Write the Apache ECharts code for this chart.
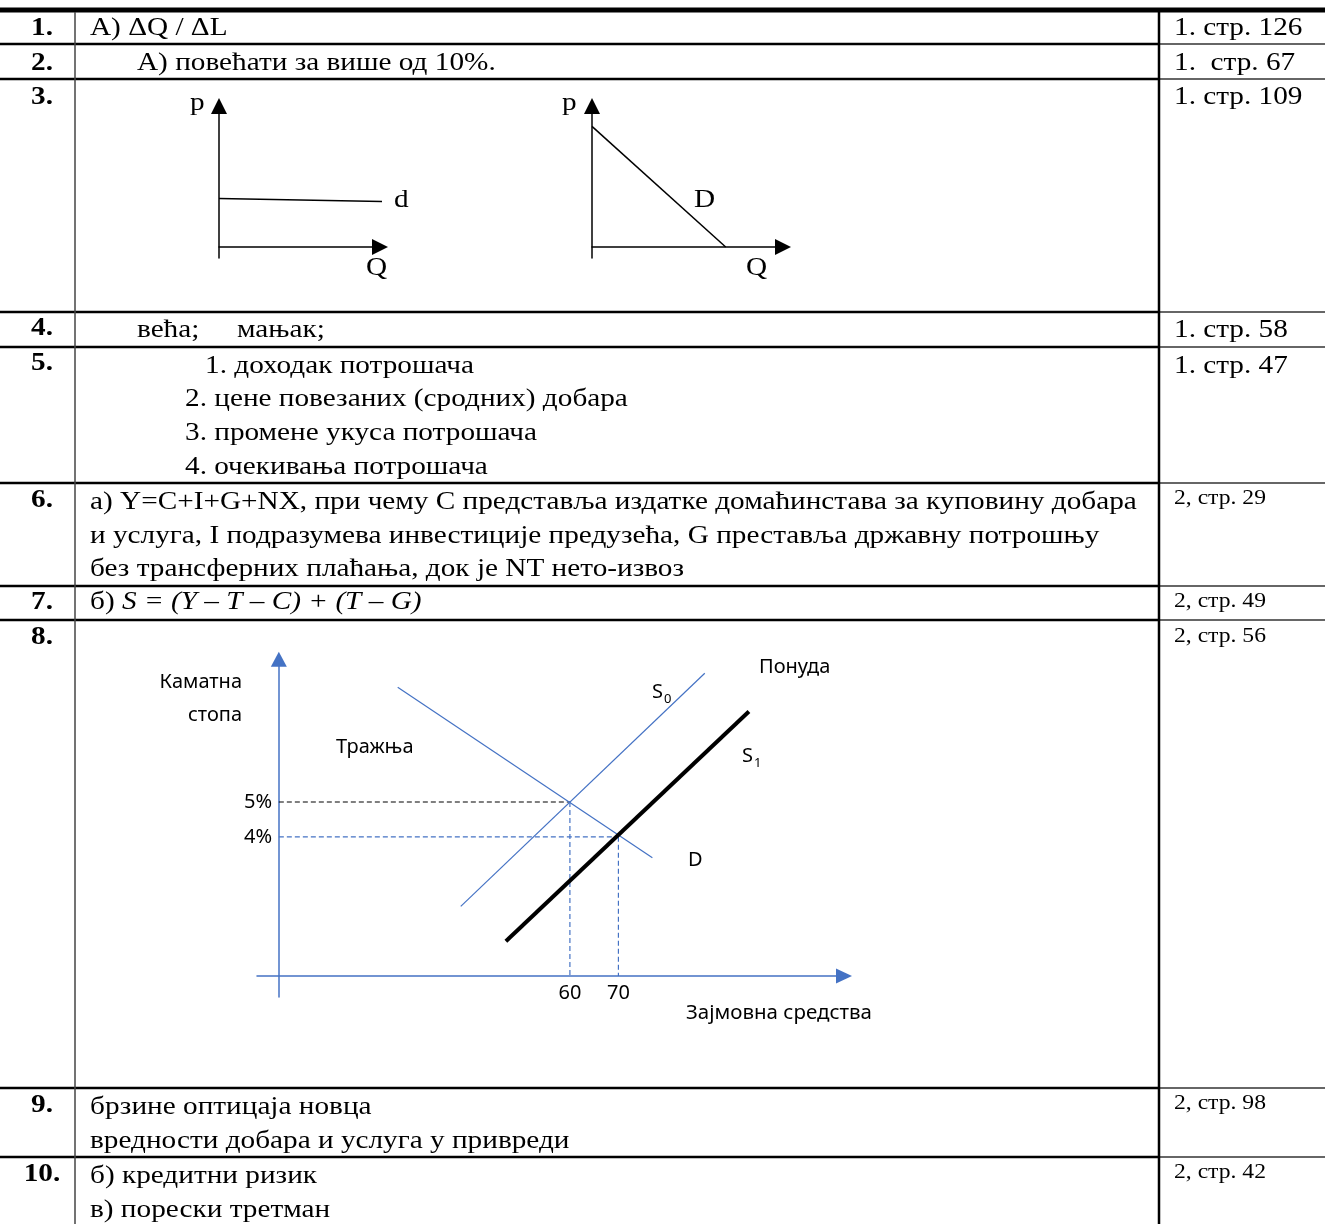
<!DOCTYPE html>
<html>
<head>
<meta charset="utf-8">
<script src="https://cdn.jsdelivr.net/npm/echarts@6/dist/echarts.min.js"></script>
<style>
  html, body { margin: 0; padding: 0; background: #fff; }
  #main { width: 1325px; height: 1224px; }
</style>
</head>
<body>
<div id="main"></div>
<script>
  // ---- data ----
  const rowNumbers = ['1.', '2.', '3.', '4.', '5.', '6.', '7.', '8.', '9.', '10.'];
  const bookRefs = ['1. стр. 126', '1.  стр. 67', '1. стр. 109', '1. стр. 58', '1. стр. 47',
    '2, стр. 29', '2, стр. 49', '2, стр. 56', '2, стр. 98', '2, стр. 42'];
  const answers5 = ['1. доходак потрошача', '2. цене повезаних (сродних) добара',
    '3. промене укуса потрошача', '4. очекивања потрошача'];
  const answers6 = ['а) Y=C+I+G+NX, при чему С представља издатке домаћинстава за куповину добара',
    'и услуга, I подразумева инвестиције предузећа, G преставља државну потрошњу',
    'без трансферних плаћања, док је NT нето-извоз'];
  const answers9 = ['брзине оптицаја новца', 'вредности добара и услуга у привреди'];
  const answers10 = ['б) кредитни ризик', 'в) порески третман'];

  // task 3: perfectly elastic demand (d) and linear demand (D)
  const flatDemand = [[0, 3.1], [10.35, 2.9]];
  const linearDemand = [[0, 7.7], [7, 0]];

  // task 8: loanable funds market
  const loanDemand = [[24.5, 8.3], [77, 3.4]];
  const supplyS0 = [[37.5, 2.0], [87.8, 8.7]];
  const supplyS1 = [[46.8, 1.0], [96.9, 7.6]];
  const equilibria = [[60, 5], [70, 4]];
  const rateTicks = [4, 5];
  const fundTicks = [60, 70];

  // ---- layout ----
  const SERIF = '"Liberation Serif", "Times New Roman", serif';
  const SANS = '"Noto Sans", "Open Sans", sans-serif';
  const STRETCH = 1.125;
  const BLUE = '#4472C4';
  const rowLines = [44, 79, 312, 347, 483, 586, 620, 1088, 1157];
  const numY = [28, 63, 97, 328, 363, 500, 602, 637, 1105, 1174];
  const refY = [28, 63, 97, 330, 366, 498, 601, 636, 1103, 1172];

  const elements = [];
  const text = (str, x, y, font, extra) => {
    elements.push(Object.assign({
      type: 'text', x: x, y: y, scaleX: STRETCH, silent: true,
      style: {
        text: str, x: 0, y: 0, font: font, fill: '#000',
        textAlign: 'left', align: 'left',
        textVerticalAlign: 'middle', verticalAlign: 'middle'
      }
    }, extra || {}));
  };
  const setAlign = (el, a) => { el.style.textAlign = a; el.style.align = a; };
  const line = (x1, y1, x2, y2, color, w) => {
    elements.push({ type: 'line', silent: true, shape: { x1, y1, x2, y2 }, style: { stroke: color, lineWidth: w } });
  };

  // table rules
  line(0, 10, 1325, 10, '#000', 5);
  rowLines.forEach((y) => {
    line(0, y, 1159, y, '#000', 2.5);
    line(1159, y, 1325, y, '#333', 1.5);
  });
  line(75, 12, 75, 1224, '#444', 1.5);
  line(1159, 12, 1159, 1224, '#000', 2.5);

  // row numbers
  rowNumbers.forEach((n, i) => {
    text(n, 42, numY[i], 'bold 26px ' + SERIF);
    setAlign(elements[elements.length - 1], 'center');
  });
  // references column
  bookRefs.forEach((r, i) => {
    text(r, 1174, refY[i], (i < 5 ? '26px ' : '21px ') + SERIF);
  });

  // answers
  text('А) ΔQ / ΔL', 90, 28, '26px ' + SERIF);
  text('А) повећати за више од 10%.', 137, 63, '26px ' + SERIF);
  text('већа;', 137, 330, '26px ' + SERIF);
  text('мањак;', 237, 330, '26px ' + SERIF);
  answers5.forEach((s, i) => text(s, i === 0 ? 205 : 185, [366, 399, 433, 467][i], '26px ' + SERIF));
  answers6.forEach((s, i) => text(s, 90, [502, 536, 569][i], '26px ' + SERIF));
  text('б)', 90, 602, '26px ' + SERIF);
  text('S = (Y – T – C) + (T – G)', 122, 602, 'italic 26px ' + SERIF);
  answers9.forEach((s, i) => text(s, 90, [1107, 1141][i], '26px ' + SERIF));
  answers10.forEach((s, i) => text(s, 90, [1176, 1210][i], '26px ' + SERIF));

  // diagram labels (task 3)
  text('p', 190, 103, '26px ' + SERIF);
  text('d', 394, 200, '26px ' + SERIF);
  text('Q', 366, 268, '26px ' + SERIF);
  text('p', 562, 103, '26px ' + SERIF);
  text('D', 694, 200, '26px ' + SERIF);
  text('Q', 746, 268, '26px ' + SERIF);

  // diagram labels (task 8)
  const sansLabel = (s, x, y, size, align) => {
    text(s, x, y, (size || 20) + 'px ' + SANS, { scaleX: 1 });
    if (align) setAlign(elements[elements.length - 1], align);
  };
  sansLabel('Каматна', 242, 682, 20, 'right');
  sansLabel('стопа', 242, 715, 20, 'right');
  sansLabel('Тражња', 336, 747);
  sansLabel('Понуда', 759, 667);
  sansLabel('S', 652, 692);
  sansLabel('0', 664, 699, 13);
  sansLabel('S', 742, 756);
  sansLabel('1', 754, 763, 13);
  sansLabel('D', 688, 860);
  sansLabel('Зајмовна средства', 686, 1013, 20.5);

  // ---- axes helpers ----
  const arrowAxis = (color, size) => ({
    show: true, onZero: true,
    symbol: ['none', 'triangle'], symbolSize: size,
    lineStyle: { color: color, width: 1.5 }
  });
  const plainAxis = (gridIndex, min, max, color, size) => ({
    type: 'value', gridIndex: gridIndex, min: min, max: max,
    axisLine: arrowAxis(color, size),
    axisTick: { show: false }, axisLabel: { show: false }, splitLine: { show: false }
  });

  const seg = (gi, data, color, width, type, z) => ({
    type: 'line', xAxisIndex: gi, yAxisIndex: gi, data: data, symbol: 'none',
    silent: true, clip: false, z: z || 2,
    lineStyle: { color: color, width: width, type: type || 'solid' }
  });

  const e0 = equilibria[0];
  const e1 = equilibria[1];

  // labels stay at the grid edge, so pull them back onto the crossing axes
  const xFunds = plainAxis(2, -4.5, 116.5, BLUE, [15, 16]);
  xFunds.axisLabel = {
    show: true, customValues: fundTicks, margin: -14,
    fontFamily: SANS, fontSize: 20, color: '#000'
  };
  const yRate = plainAxis(2, -0.6, 9.1, BLUE, [16, 15]);
  yRate.axisLabel = {
    show: true, customValues: rateTicks, margin: -15, formatter: '{value}%',
    fontFamily: SANS, fontSize: 20, color: '#000'
  };

  const option = {
    animation: false,
    backgroundColor: '#fff',
    grid: [
      { left: 219, top: 106, width: 161, height: 152 },
      { left: 592, top: 106, width: 191, height: 152 },
      { left: 257, top: 659.3, width: 587, height: 337.6 }
    ],
    xAxis: [
      plainAxis(0, 0, 10, '#000', [16, 16]),
      plainAxis(1, 0, 10, '#000', [16, 16]),
      xFunds
    ],
    yAxis: [
      plainAxis(0, -0.7, 9, '#000', [16, 16]),
      plainAxis(1, -0.7, 9, '#000', [16, 16]),
      yRate
    ],
    series: [
      seg(0, flatDemand, '#000', 1.5),
      seg(1, linearDemand, '#000', 1.5),
      seg(2, [[0, e0[1]], e0], '#000', 1.2, [5, 3]),
      seg(2, [e0, [e0[0], 0]], BLUE, 1.2, [5, 3]),
      seg(2, [[0, e1[1]], e1], BLUE, 1.2, [5, 3]),
      seg(2, [e1, [e1[0], 0]], BLUE, 1.2, [5, 3]),
      seg(2, loanDemand, BLUE, 1.2),
      seg(2, supplyS0, BLUE, 1.2),
      seg(2, supplyS1, '#000', 4, 'solid', 3)
    ],
    graphic: { elements: elements }
  };

  const chart = echarts.init(document.getElementById('main'));
  chart.setOption(option);
</script>
</body>
</html>
